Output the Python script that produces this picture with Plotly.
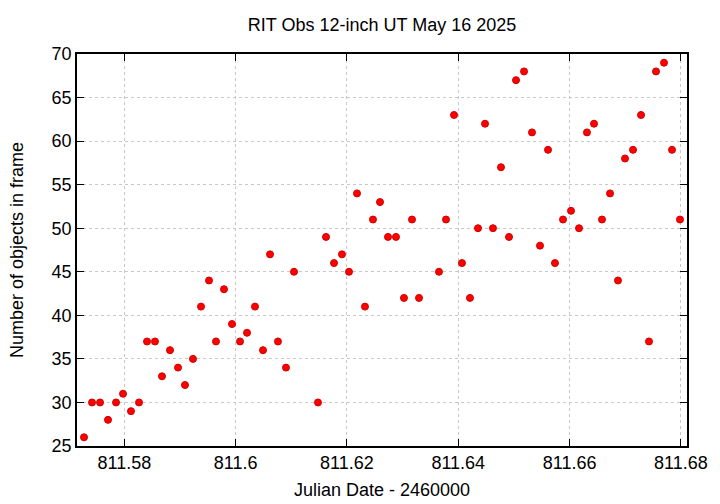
import plotly.graph_objects as go

jd = [811.57276, 811.5742, 811.57564, 811.57707, 811.57851, 811.57977, 811.5812, 811.58264,
      811.58408, 811.58551, 811.58677, 811.58821, 811.58965, 811.5909, 811.59234, 811.59378,
      811.59522, 811.59647, 811.59791, 811.59935, 811.60079, 811.60205, 811.60348, 811.60492,
      811.60618, 811.60761, 811.60905, 811.61049, 811.6148, 811.61624, 811.61768, 811.61911,
      811.62037, 811.62181, 811.62324, 811.62468, 811.62594, 811.62738, 811.62881, 811.63025,
      811.63169, 811.63295, 811.63654, 811.6378, 811.63924, 811.64067, 811.64211, 811.64355,
      811.64481, 811.64624, 811.64768, 811.64912, 811.65038, 811.65182, 811.65325, 811.65469,
      811.65613, 811.65738, 811.65882, 811.66026, 811.6617, 811.66313, 811.66439, 811.66583,
      811.66727, 811.6687, 811.66996, 811.6714, 811.67284, 811.67427, 811.67553, 811.67697,
      811.67841, 811.67984]
nobj = [26, 30, 30, 28, 30, 31, 29, 30,
        37, 37, 33, 36, 34, 32, 35, 41,
        44, 37, 43, 39, 37, 38, 41, 36,
        47, 37, 34, 45, 30, 49, 46, 47,
        45, 54, 41, 51, 53, 49, 49, 42,
        51, 42, 45, 51, 63, 46, 42, 50,
        62, 50, 57, 49, 67, 68, 61, 48,
        59, 46, 51, 52, 50, 61, 62, 51,
        54, 44, 58, 59, 63, 37, 68, 69,
        59, 51]

xtick_vals = [811.58, 811.60, 811.62, 811.64, 811.66, 811.68]
xtick_text = ["811.58", "811.6", "811.62", "811.64", "811.66", "811.68"]
ytick_vals = [25, 30, 35, 40, 45, 50, 55, 60, 65, 70]

fig = go.Figure()
fig.add_trace(go.Scatter(
    x=jd, y=nobj, mode="markers",
    marker=dict(color="#ff0000", size=7, line=dict(color="#d00000", width=1)),
    showlegend=False,
))

font = "Liberation Sans, Arial, sans-serif"
axis_common = dict(
    showline=True, linecolor="black", linewidth=1.5, mirror="allticks",
    ticks="inside", ticklen=7, tickcolor="black", tickwidth=1,
    showgrid=True, gridcolor="#c8c8c8", griddash="dot", gridwidth=1,
    zeroline=False, automargin=False,
    tickfont=dict(family=font, size=18, color="black"),
)

# page body has an 8px default margin; figure sized/offset to compensate
W, H = 712, 496
fig.update_layout(
    width=W, height=H,
    margin=dict(l=69, r=33, t=46, b=58),
    paper_bgcolor="white", plot_bgcolor="white",
    title=dict(text="RIT Obs 12-inch UT May 16 2025", x=0.5, xanchor="center",
               xref="paper", y=1 - 17 / H, yanchor="middle",
               font=dict(family=font, size=18, color="black")),
    xaxis=dict(range=[811.5715, 811.6811], tickvals=xtick_vals, ticktext=xtick_text,
               **axis_common),
    yaxis=dict(range=[25, 70], tickvals=ytick_vals, **axis_common),
    annotations=[
        dict(text="Julian Date - 2460000", xref="paper", yref="paper", x=0.5, y=0,
             xanchor="center", yanchor="middle", yshift=-44, showarrow=False,
             font=dict(family=font, size=18, color="black")),
        dict(text="Number of objects in frame", xref="paper", yref="paper", x=0, y=0.5,
             xanchor="center", yanchor="middle", xshift=-60, textangle=-90, showarrow=False,
             font=dict(family=font, size=18, color="black")),
    ],
)

fig.write_html("out.html")
